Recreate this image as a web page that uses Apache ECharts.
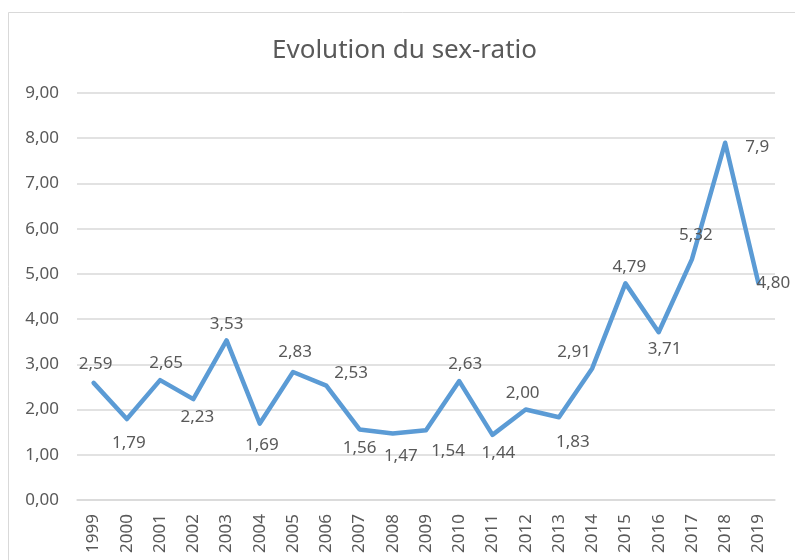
<!DOCTYPE html>
<html>
<head>
	<meta charset="UTF-8">
	<title>Evolution du sex-ratio</title>
	<script type="text/javascript" src="https://cdn.jsdelivr.net/npm/echarts@6/dist/echarts.min.js"></script>
	<style>
		html, body { margin: 0; padding: 0; background: #fff; }
		#show { width: 795px; height: 560px; }
	</style>
</head>
<body>
<div id="show"></div>
<script type="text/javascript">
	var years = ['1999','2000','2001','2002','2003','2004','2005','2006','2007','2008','2009',
		'2010','2011','2012','2013','2014','2015','2016','2017','2018','2019'];
	var ratio = [2.59, 1.79, 2.65, 2.23, 3.53, 1.69, 2.83, 2.53, 1.56, 1.47, 1.54,
		2.63, 1.44, 2.00, 1.83, 2.91, 4.79, 3.71, 5.32, 7.9, 4.80];
	var ratioText = ['2,59','1,79','2,65','2,23','3,53','1,69','2,83','2,53','1,56','1,47','1,54',
		'2,63','1,44','2,00','1,83','2,91','4,79','3,71','5,32','7,9','4,80'];
	// where each value label sits (like excel put them)
	var labelPos = ['top','bottom','top','bottom','top','bottom','top','right','bottom','bottom','bottom',
		'top','bottom','top','bottom','top','top','bottom','top','right','right'];
	var labelShift = [[2,-2],[2,8],[6,0],[4,1],[0,0],[2,5],[2,-3],[0,-12],[0,2],[8,6],[22,4],
		[6,0],[6,2],[-3,0],[14,8],[-18,0],[4,0],[6,0],[4,-8],[12,4],[-10,0]];

	var grey = '#595959';
	var font = 'Noto Sans';

	var seriesData = ratio.map(function (v, i) {
		return {
			value: v,
			label: { position: labelPos[i], offset: labelShift[i], formatter: ratioText[i] }
		};
	});

	var myChart = echarts.init(document.getElementById('show'));

	option = {
		backgroundColor: '#fff',
		animation: false,
		title: {
			text: 'Evolution du sex-ratio',
			left: 267,
			top: 33,
			textStyle: { color: grey, fontFamily: font, fontSize: 26, fontWeight: 'normal' }
		},
		graphic: [{
			type: 'rect',
			shape: { x: 8.5, y: 12.5, width: 800, height: 560 },
			style: { fill: 'none', stroke: '#d9d9d9', lineWidth: 1 },
			silent: true
		}],
		grid: { left: 77, right: 20, top: 93, bottom: 60 },
		xAxis: {
			type: 'category',
			data: years,
			boundaryGap: true,
			axisLine: { lineStyle: { color: '#d9d9d9', width: 1.5 } },
			axisTick: { show: false },
			axisLabel: { rotate: 90, color: grey, fontFamily: font, fontSize: 17, margin: 14, interval: 0 }
		},
		yAxis: {
			type: 'value',
			min: 0,
			max: 9,
			interval: 1,
			axisLine: { show: false },
			axisTick: { show: false },
			splitLine: { lineStyle: { color: '#d9d9d9', width: 1.5 } },
			axisLabel: {
				color: grey, fontFamily: font, fontSize: 17, margin: 18,
				formatter: function (v) { return v.toFixed(2).replace('.', ','); }
			}
		},
		series: [{
			type: 'line',
			data: seriesData,
			showSymbol: true,
			symbol: 'circle',
			symbolSize: 0.1,
			lineStyle: { color: '#5b9bd5', width: 4.5, join: 'round', cap: 'round' },
			itemStyle: { color: '#5b9bd5' },
			label: { show: true, color: grey, fontFamily: font, fontSize: 17, distance: 8 }
		}]
	};

	myChart.setOption(option);
</script>
</body>
</html>
